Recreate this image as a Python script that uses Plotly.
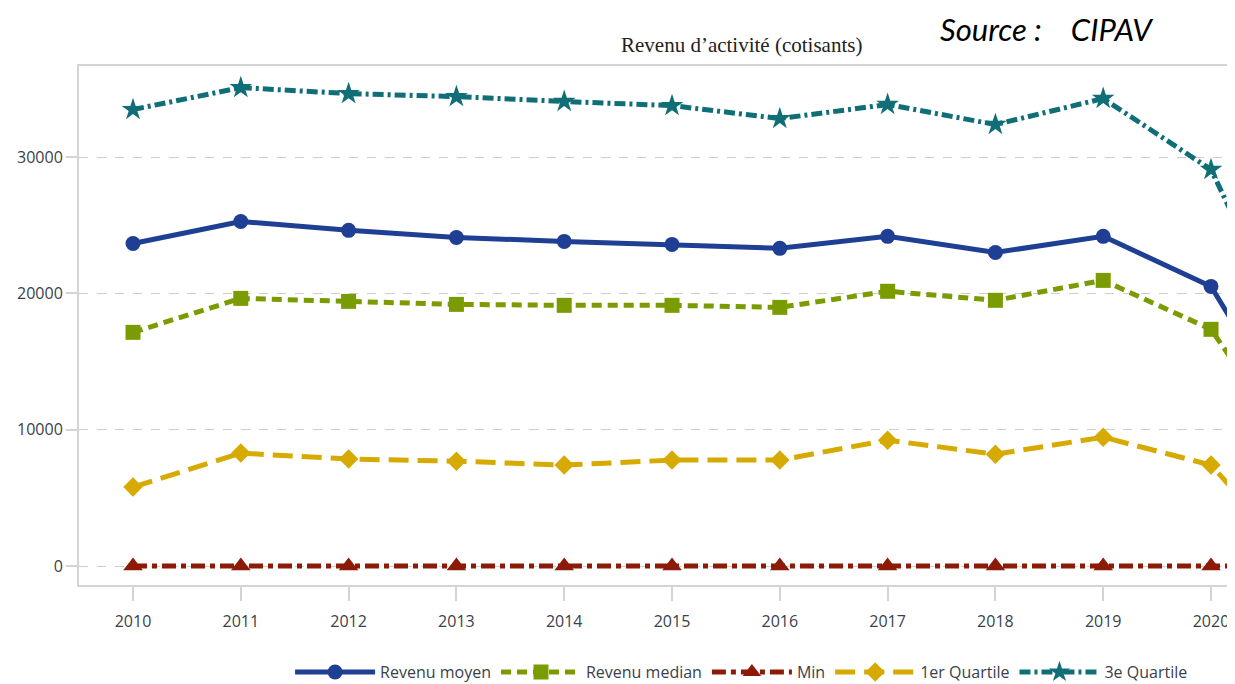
import plotly.graph_objects as go

years = [2010, 2011, 2012, 2013, 2014, 2015, 2016, 2017, 2018, 2019, 2020, 2021]
revenu_moyen = [23660, 25270, 24620, 24100, 23810, 23590, 23300, 24180, 23000, 24180, 20510, 7500]
revenu_median = [17140, 19630, 19410, 19190, 19120, 19120, 18970, 20150, 19490, 20950, 17360, 5900]
minimum = [0, 0, 0, 0, 0, 0, 0, 0, 0, 0, 0, 0]
q1 = [5790, 8280, 7840, 7690, 7400, 7770, 7770, 9230, 8200, 9450, 7400, -1300]
q3 = [33480, 35090, 34650, 34430, 34070, 33770, 32820, 33850, 32380, 34290, 29080, 12500]
tick_years = list(range(2010, 2021))
y_ticks = [0, 10000, 20000, 30000]

series = [
    ("Revenu moyen", revenu_moyen, "#1f3f94", "solid", "circle", 15),
    ("Revenu median", revenu_median, "#7a9c00", "10px,6px", "square", 15),
    ("Min", minimum, "#8c1a06", "14px,5px,5px,5px", "triangle-up", 17),
    ("1er Quartile", q1, "#d6aa00", "20px,9px", "diamond", 15),
    ("3e Quartile", q3, "#0f6e76", "11px,4px,3px,4px", "star", 17),
]

fig = go.Figure()
for name, vals, color, dash, sym, size in series:
    fig.add_trace(go.Scatter(
        x=years, y=vals, name=name, mode="lines+markers",
        line=dict(color=color, width=5, dash=dash),
        marker=dict(symbol=sym, size=size, color=color),
    ))

fig.update_layout(
    width=1235, height=684,
    margin=dict(l=71, r=10, t=58, b=107, autoexpand=False),
    paper_bgcolor="white", plot_bgcolor="white",
    font=dict(family="Open Sans, Liberation Sans, sans-serif", size=16, color="#3a3f4a"),
    showlegend=True,
    legend=dict(orientation="h", xref="container", yref="container",
                x=0.594, xanchor="center", y=0.029, yanchor="middle",
                itemwidth=80, font=dict(size=16, color="#3a3f4a"), tracegroupgap=0),
    xaxis=dict(range=[2009.499, 2020.204], tickmode="array", tickvals=tick_years,
               ticktext=[str(y) for y in tick_years], automargin=False,
               showgrid=False, zeroline=False, showline=True, mirror=True,
               linecolor="#d4d4d4", linewidth=2, ticks="outside", ticklen=14,
               tickcolor="#d4d4d4", tickwidth=1.5, ticklabelstandoff=7,
               tickfont=dict(size=16, color="#3a3f4a")),
    yaxis=dict(range=[-1394, 36675], tickmode="array", tickvals=y_ticks,
               ticktext=[str(v) for v in y_ticks], automargin=False,
               showgrid=True, gridcolor="#cccccc", griddash="dash", gridwidth=1,
               zeroline=False, showline=True, linecolor="#d4d4d4", linewidth=2,
               ticks="outside", ticklen=11, tickcolor="#d4d4d4", tickwidth=1.5,
               tickfont=dict(size=16, color="#3a3f4a")),
    annotations=[
        dict(text="Revenu d\u2019activité (cotisants)", xref="paper", yref="paper",
             x=0.5737, y=1.04, xanchor="center", yanchor="middle", showarrow=False,
             font=dict(family="Liberation Serif, serif", size=21, color="#222222")),
        dict(text="<i>Source :    CIPAV</i>", xref="paper", yref="paper",
             x=0.838, y=1.071, xanchor="center", yanchor="middle", showarrow=False,
             font=dict(family="Lato, Open Sans, sans-serif", size=31, color="#000000")),
    ],
)

fig.write_html("out.html")
